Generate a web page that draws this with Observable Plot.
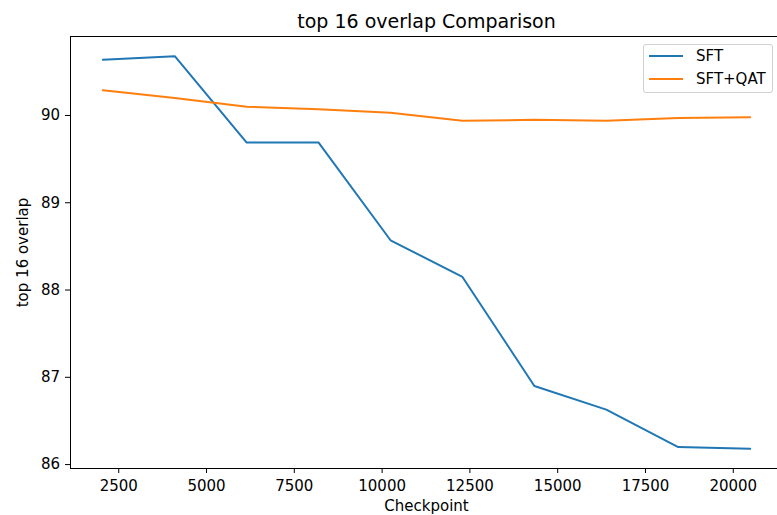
<!DOCTYPE html>
<html><head><meta charset="utf-8">
<script src="https://cdn.jsdelivr.net/npm/d3@7"></script>
<script src="https://cdn.jsdelivr.net/npm/@observablehq/plot@0.6"></script>
<style>
html,body{margin:0;padding:0;background:#fff;overflow:hidden;}
#wrap{position:relative;width:777px;height:515px;overflow:hidden;}
.legend{position:absolute;left:643px;top:44px;width:130px;height:49px;border:1px solid #d0d0d0;border-radius:3px;background:rgba(255,255,255,0.8);font-family:"DejaVu Sans",sans-serif;font-size:15px;color:#000;box-sizing:border-box;}
.legend .row{position:absolute;left:0;height:20px;display:flex;align-items:center;white-space:nowrap;}
.legend .sw{display:inline-block;width:34px;height:2px;margin-left:5px;margin-right:13px;}
</style>
</head><body>
<div id="wrap"></div>
<script>
const title = "top 16 overlap Comparison";
const xLabel = "Checkpoint";
const yLabel = "top 16 overlap";
const checkpoints = [2048, 4096, 6144, 8192, 10240, 12288, 14336, 16384, 18432, 20480];
const sftValues = [90.64, 90.68, 89.69, 89.69, 88.57, 88.15, 86.90, 86.63, 86.20, 86.18];
const qatValues = [90.29, 90.20, 90.10, 90.07, 90.03, 89.94, 89.95, 89.94, 89.97, 89.98];
const seriesNames = ["SFT", "SFT+QAT"];
const seriesColors = ["#1f77b4", "#ff7f0e"];
const xTicks = [2500, 5000, 7500, 10000, 12500, 15000, 17500, 20000];
const yTicks = [86, 87, 88, 89, 90];

const rows = [];
checkpoints.forEach((c, i) => {
  rows.push({checkpoint: c, value: sftValues[i], series: seriesNames[0]});
  rows.push({checkpoint: c, value: qatValues[i], series: seriesNames[1]});
});

function padded(ext) {
  const m = (ext[1] - ext[0]) * 0.05;
  return [ext[0] - m, ext[1] + m];
}
const xDomain = padded(d3.extent(checkpoints));
const yDomain = padded(d3.extent(sftValues.concat(qatValues)));

const plot = Plot.plot({
  width: 777, height: 515,
  marginLeft: 70, marginRight: -5, marginTop: 36, marginBottom: 47,
  style: {fontFamily: "DejaVu Sans, sans-serif", fontSize: "15px", color: "#000", background: "#fff", overflow: "hidden"},
  x: {domain: xDomain},
  y: {domain: yDomain},
  color: {domain: seriesNames, range: seriesColors},
  marks: [
    Plot.line(rows, {x: "checkpoint", y: "value", stroke: "series", z: "series", strokeWidth: 2}),
    Plot.frame({stroke: "#000", strokeWidth: 1}),
    Plot.axisX({ticks: xTicks, tickFormat: d3.format("d"), tickSize: 5, tickPadding: 7, label: xLabel, labelAnchor: "center", labelArrow: "none", labelOffset: 42}),
    Plot.axisY({ticks: yTicks, tickFormat: d3.format("d"), tickSize: 5, tickPadding: 5.5, label: yLabel, labelAnchor: "center", labelArrow: "none", labelOffset: 53}),
    Plot.text([title], {text: d => d, frameAnchor: "top", lineAnchor: "middle", dy: -15, fontSize: 19})
  ]
});
const wrap = document.getElementById("wrap");
wrap.appendChild(plot);

const legend = document.createElement("div");
legend.className = "legend";
seriesNames.forEach((name, i) => {
  const row = document.createElement("div");
  row.className = "row";
  row.style.top = (1 + i * 23) + "px";
  const sw = document.createElement("span");
  sw.className = "sw";
  sw.style.background = seriesColors[i];
  row.appendChild(sw);
  row.appendChild(document.createTextNode(name));
  legend.appendChild(row);
});
wrap.appendChild(legend);
</script>
</body></html>
